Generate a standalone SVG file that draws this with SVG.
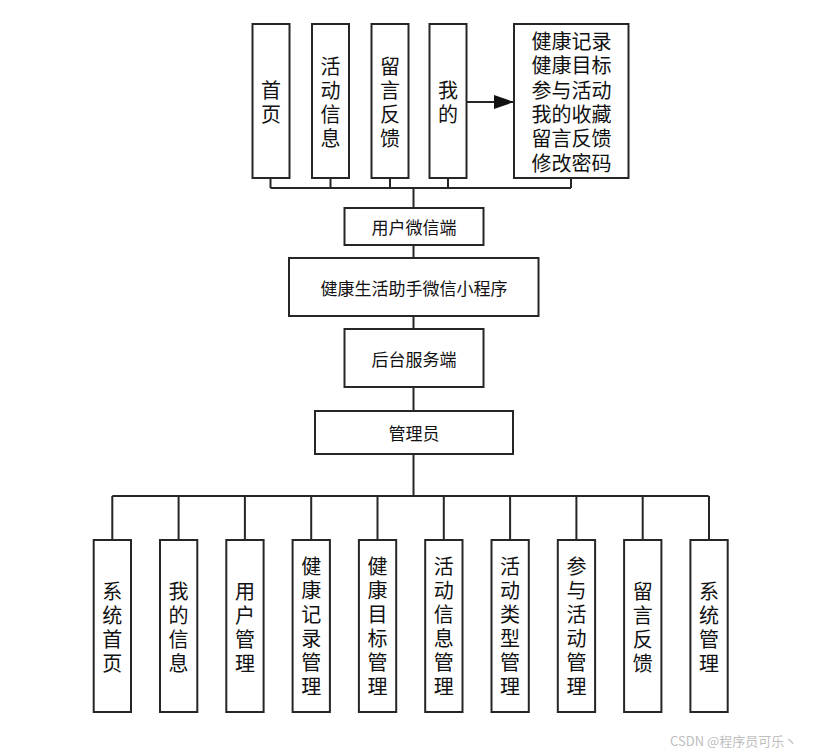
<svg xmlns="http://www.w3.org/2000/svg" width="830" height="756" viewBox="0 0 830 756">
<style>
.box{fill:#fff;stroke:#262626;stroke-width:2}
.t{font-family:"Noto Sans CJK SC","Noto Sans",sans-serif;fill:#111;text-anchor:middle;dominant-baseline:central}
.big{font-size:20px}
.mid{font-size:17px}
.ln{fill:none;stroke:#262626;stroke-width:2}
.wm{font-family:"Noto Sans CJK SC","Liberation Sans",sans-serif;font-size:13px;fill:#bdbdbd}
</style>
<defs>
<marker id="ah" markerWidth="20" markerHeight="14" refX="20" refY="7" orient="auto" markerUnits="userSpaceOnUse">
<path d="M0,0 L20,7 L0,14 Z" fill="#111"/>
</marker>
</defs>
<rect width="830" height="756" fill="#fff"/>
<g id="connectors">
<path class="ln" d="M270.5,178 V188 M330.5,178 V188 M390,178 V188 M448,178 V188 M571,178 V188 M270.5,188 H571"/>
<path class="ln" d="M413.5,188 V208"/>
<path class="ln" d="M413.5,245 V258"/>
<path class="ln" d="M413.5,316 V329"/>
<path class="ln" d="M413.5,387 V411"/>
<path class="ln" d="M413.5,454 V496"/>
<path class="ln" d="M112.3,496 H708.7"/>
<path class="ln" d="M112.3,496 V540 M178.6,496 V540 M244.9,496 V540 M311.2,496 V540 M377.5,496 V540 M443.8,496 V540 M510.1,496 V540 M576.4,496 V540 M642.7,496 V540 M709,496 V540"/>
<path class="ln" d="M467,102 H514" marker-end="url(#ah)"/>
</g>
<g id="n_home"><rect class="box" x="252.5" y="24" width="37" height="154"/><text class="t big"><tspan x="271" y="89">首</tspan><tspan x="271" dy="24">页</tspan></text></g>
<g id="n_activity"><rect class="box" x="312" y="24" width="37" height="154"/><text class="t big"><tspan x="330.5" y="65">活</tspan><tspan x="330.5" dy="24">动</tspan><tspan x="330.5" dy="24">信</tspan><tspan x="330.5" dy="24">息</tspan></text></g>
<g id="n_feedback"><rect class="box" x="371.5" y="24" width="37" height="154"/><text class="t big"><tspan x="390" y="65">留</tspan><tspan x="390" dy="24">言</tspan><tspan x="390" dy="24">反</tspan><tspan x="390" dy="24">馈</tspan></text></g>
<g id="n_mine"><rect class="box" x="429.5" y="24" width="37" height="154"/><text class="t big"><tspan x="448" y="89">我</tspan><tspan x="448" dy="24">的</tspan></text></g>
<g id="n_minelist"><rect class="box" x="514" y="24" width="114.5" height="154"/>
<text class="t big"><tspan x="571.5" y="40">健康记录</tspan><tspan x="571.5" dy="24.3">健康目标</tspan><tspan x="571.5" dy="24.3">参与活动</tspan><tspan x="571.5" dy="24.3">我的收藏</tspan><tspan x="571.5" dy="24.3">留言反馈</tspan><tspan x="571.5" dy="24.3">修改密码</tspan></text></g>
<g id="n_wechat"><rect class="box" x="344.5" y="208" width="139" height="37"/><text class="t mid" x="414" y="226.5">用户微信端</text></g>
<g id="n_app"><rect class="box" x="289" y="258" width="249.5" height="58"/><text class="t mid" x="414" y="287">健康生活助手微信小程序</text></g>
<g id="n_backend"><rect class="box" x="344.5" y="329" width="139" height="58"/><text class="t mid" x="414" y="358">后台服务端</text></g>
<g id="n_admin"><rect class="box" x="315" y="411" width="198" height="43"/><text class="t mid" x="414" y="432.5">管理员</text></g>
<g id="b1"><rect class="box" x="93.7" y="540" width="37.3" height="172"/><text class="t big"><tspan x="112.3" y="590">系</tspan><tspan x="112.3" dy="24">统</tspan><tspan x="112.3" dy="24">首</tspan><tspan x="112.3" dy="24">页</tspan></text></g>
<g id="b2"><rect class="box" x="160" y="540" width="37.3" height="172"/><text class="t big"><tspan x="178.6" y="590">我</tspan><tspan x="178.6" dy="24">的</tspan><tspan x="178.6" dy="24">信</tspan><tspan x="178.6" dy="24">息</tspan></text></g>
<g id="b3"><rect class="box" x="226.3" y="540" width="37.3" height="172"/><text class="t big"><tspan x="244.9" y="590">用</tspan><tspan x="244.9" dy="24">户</tspan><tspan x="244.9" dy="24">管</tspan><tspan x="244.9" dy="24">理</tspan></text></g>
<g id="b4"><rect class="box" x="292.6" y="540" width="37.3" height="172"/><text class="t big"><tspan x="311.2" y="565">健</tspan><tspan x="311.2" dy="24">康</tspan><tspan x="311.2" dy="24">记</tspan><tspan x="311.2" dy="24">录</tspan><tspan x="311.2" dy="24">管</tspan><tspan x="311.2" dy="24">理</tspan></text></g>
<g id="b5"><rect class="box" x="358.9" y="540" width="37.3" height="172"/><text class="t big"><tspan x="377.5" y="565">健</tspan><tspan x="377.5" dy="24">康</tspan><tspan x="377.5" dy="24">目</tspan><tspan x="377.5" dy="24">标</tspan><tspan x="377.5" dy="24">管</tspan><tspan x="377.5" dy="24">理</tspan></text></g>
<g id="b6"><rect class="box" x="425.2" y="540" width="37.3" height="172"/><text class="t big"><tspan x="443.8" y="565">活</tspan><tspan x="443.8" dy="24">动</tspan><tspan x="443.8" dy="24">信</tspan><tspan x="443.8" dy="24">息</tspan><tspan x="443.8" dy="24">管</tspan><tspan x="443.8" dy="24">理</tspan></text></g>
<g id="b7"><rect class="box" x="491.5" y="540" width="37.3" height="172"/><text class="t big"><tspan x="510.1" y="565">活</tspan><tspan x="510.1" dy="24">动</tspan><tspan x="510.1" dy="24">类</tspan><tspan x="510.1" dy="24">型</tspan><tspan x="510.1" dy="24">管</tspan><tspan x="510.1" dy="24">理</tspan></text></g>
<g id="b8"><rect class="box" x="557.8" y="540" width="37.3" height="172"/><text class="t big"><tspan x="576.4" y="565">参</tspan><tspan x="576.4" dy="24">与</tspan><tspan x="576.4" dy="24">活</tspan><tspan x="576.4" dy="24">动</tspan><tspan x="576.4" dy="24">管</tspan><tspan x="576.4" dy="24">理</tspan></text></g>
<g id="b9"><rect class="box" x="624.1" y="540" width="37.3" height="172"/><text class="t big"><tspan x="642.7" y="590">留</tspan><tspan x="642.7" dy="24">言</tspan><tspan x="642.7" dy="24">反</tspan><tspan x="642.7" dy="24">馈</tspan></text></g>
<g id="b10"><rect class="box" x="690.4" y="540" width="37.3" height="172"/><text class="t big"><tspan x="709" y="590">系</tspan><tspan x="709" dy="24">统</tspan><tspan x="709" dy="24">管</tspan><tspan x="709" dy="24">理</tspan></text></g>
<text class="wm" x="670" y="746">CSDN @程序员可乐丶</text>
</svg>
